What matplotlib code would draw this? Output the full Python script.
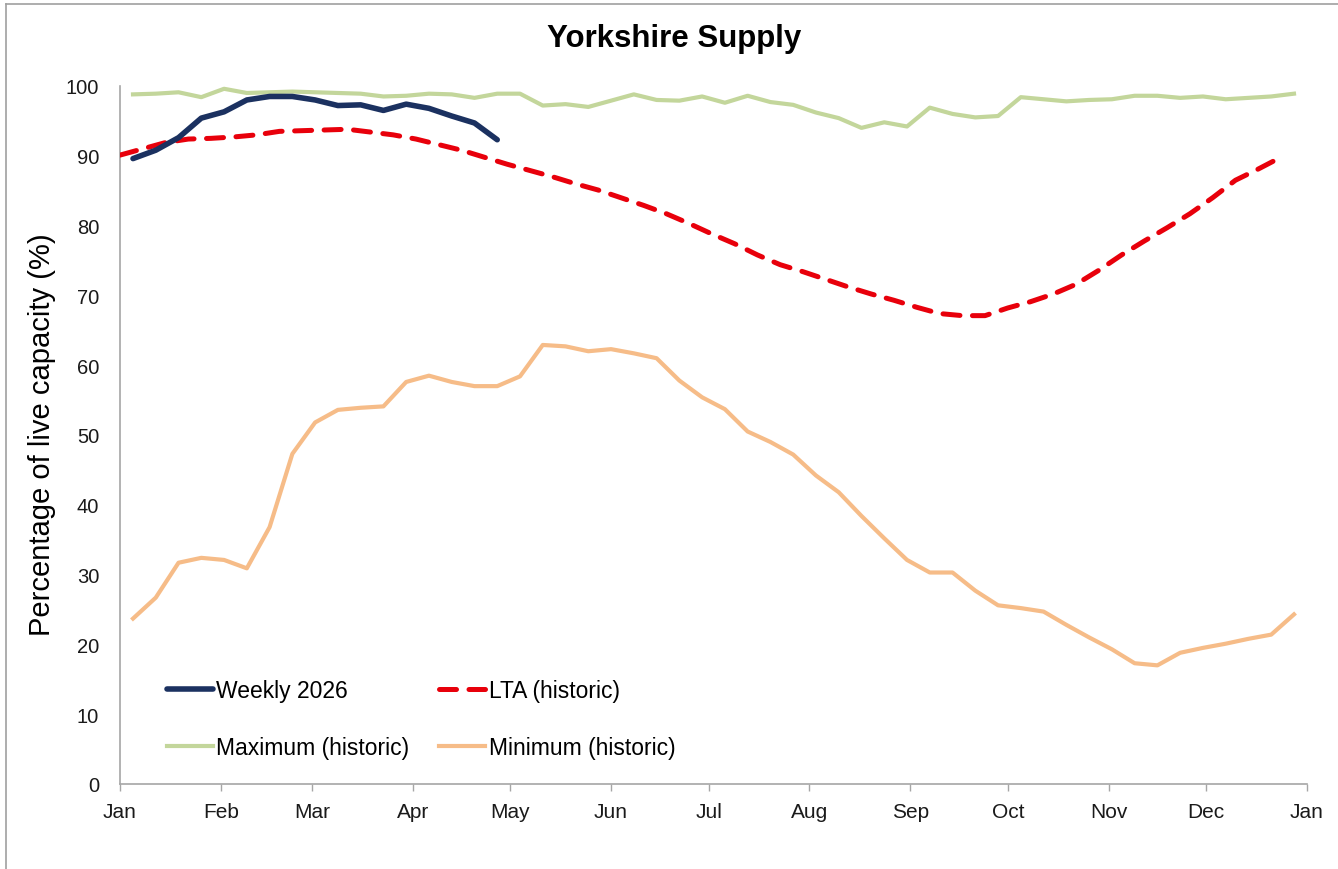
import datetime as dt
import matplotlib
matplotlib.use("Agg")
import matplotlib.pyplot as plt
import matplotlib.dates as mdates
from matplotlib.lines import Line2D

plt.rcParams['font.family'] = ['Liberation Sans', 'DejaVu Sans']

# ---- data ----
title = "Yorkshire Supply"
ylabel = "Percentage of live capacity (%)"
series_names = ["Weekly 2026", "LTA (historic)", "Maximum (historic)", "Minimum (historic)"]

weekly_start = dt.date(2026, 1, 5)   # weekly series / historic max & min
lta_start = dt.date(2026, 1, 1)      # long-term average

weekly_2026 = [89.6, 90.8, 92.6, 95.4, 96.3, 98.0, 98.5, 98.5, 98.0, 97.2,
               97.3, 96.5, 97.4, 96.8, 95.7, 94.7, 92.3]

lta = [90.1, 91.0, 91.9, 92.4, 92.5, 92.7, 93.0, 93.5, 93.6, 93.7,
       93.8, 93.4, 93.0, 92.4, 91.6, 90.8, 89.8, 88.8, 87.9, 87.0,
       86.0, 85.1, 84.0, 82.9, 81.7, 80.3, 78.8, 77.4, 75.8, 74.4,
       73.4, 72.3, 71.2, 70.2, 69.3, 68.3, 67.4, 67.1, 67.1, 68.2,
       69.1, 70.2, 71.6, 73.6, 75.8, 77.8, 79.7, 81.7, 84.0, 86.5,
       88.1, 89.8]

maximum = [98.8, 98.9, 99.1, 98.4, 99.6, 99.0, 99.1, 99.2, 99.1, 99.0,
           98.9, 98.5, 98.6, 98.9, 98.8, 98.3, 98.9, 98.9, 97.2, 97.4,
           97.0, 97.9, 98.8, 98.0, 97.9, 98.5, 97.6, 98.6, 97.7, 97.3,
           96.2, 95.4, 94.0, 94.8, 94.2, 96.9, 96.0, 95.5, 95.7, 98.4,
           98.1, 97.8, 98.0, 98.1, 98.6, 98.6, 98.3, 98.5, 98.1, 98.3,
           98.5, 98.9]

minimum = [23.7, 26.7, 31.7, 32.4, 32.1, 30.9, 36.8, 47.3, 51.8, 53.6,
           53.9, 54.1, 57.6, 58.5, 57.6, 57.0, 57.0, 58.4, 62.9, 62.7,
           62.0, 62.3, 61.7, 61.0, 57.8, 55.4, 53.7, 50.5, 49.0, 47.2,
           44.2, 41.8, 38.4, 35.2, 32.1, 30.3, 30.3, 27.7, 25.6, 25.2,
           24.7, 22.8, 21.0, 19.3, 17.3, 17.0, 18.8, 19.5, 20.1, 20.8,
           21.4, 24.3]

yticks = [0, 10, 20, 30, 40, 50, 60, 70, 80, 90, 100]


def weekly_dates(start, n):
    return [start + dt.timedelta(days=7 * i) for i in range(n)]


# ---- figure ----
W, H = 1338, 870
fig = plt.figure(figsize=(W / 100, H / 100), dpi=100)
ax = fig.add_axes([120 / W, 85 / H, (1307 - 120) / W, (785 - 87) / H])

navy = "#1B3160"
red = "#E8000B"
green = "#C3D69B"
orange = "#F6BC88"

l_max, = ax.plot(weekly_dates(weekly_start, len(maximum)), maximum,
                 color=green, lw=3.0, zorder=2, solid_joinstyle='round')
l_min, = ax.plot(weekly_dates(weekly_start, len(minimum)), minimum,
                 color=orange, lw=3.0, zorder=2, solid_joinstyle='round')
l_lta, = ax.plot(weekly_dates(lta_start, len(lta)), lta,
                 color=red, lw=3.6, dashes=(3.4, 2.5), zorder=3,
                 dash_capstyle='round')
l_wk, = ax.plot(weekly_dates(weekly_start, len(weekly_2026)), weekly_2026,
                color=navy, lw=4.0, zorder=4, solid_joinstyle='round',
                solid_capstyle='round')

ax.set_xlim(dt.date(2026, 1, 1), dt.date(2027, 1, 1))
ax.set_ylim(0, 100)
ax.set_yticks(yticks)
ax.xaxis.set_major_locator(mdates.MonthLocator())
ax.xaxis.set_major_formatter(mdates.DateFormatter('%b'))

for s in ['top', 'right']:
    ax.spines[s].set_visible(False)
for s in ['left', 'bottom']:
    ax.spines[s].set_color('#A6A6A6')
    ax.spines[s].set_linewidth(1.2)

ax.tick_params(axis='y', length=0, pad=15, labelsize=14.5, labelcolor='#1a1a1a')
ax.tick_params(axis='x', length=5, width=1, color='#A6A6A6', pad=8,
               labelsize=15, labelcolor='#1a1a1a', direction='out')

leg = ax.legend([l_wk, l_max, l_lta, l_min],
                [series_names[0], series_names[2], series_names[1], series_names[3]],
                ncol=2, loc='lower left', bbox_to_anchor=(0.032, 0.022),
                frameon=False, fontsize=16.5, handlelength=2.0,
                handletextpad=0.15, columnspacing=1.3, labelspacing=1.5,
                borderaxespad=0)

fig.text(674 / W, 1 - 39 / H, title, ha='center', va='center',
         fontsize=22.5, fontweight='bold', color='black')
fig.text(42 / W, 1 - 435 / H, ylabel, ha='center', va='center',
         rotation=90, fontsize=21, color='black')

# outer frame (left and top edges visible)
fig.add_artist(Line2D([6 / W, 6 / W], [0, 1 - 5 / H], transform=fig.transFigure,
                      color='#A0A0A0', lw=1.2))
fig.add_artist(Line2D([6 / W, 1], [1 - 5 / H, 1 - 5 / H], transform=fig.transFigure,
                      color='#A0A0A0', lw=1.2))

fig.savefig("out.png", dpi=100)
